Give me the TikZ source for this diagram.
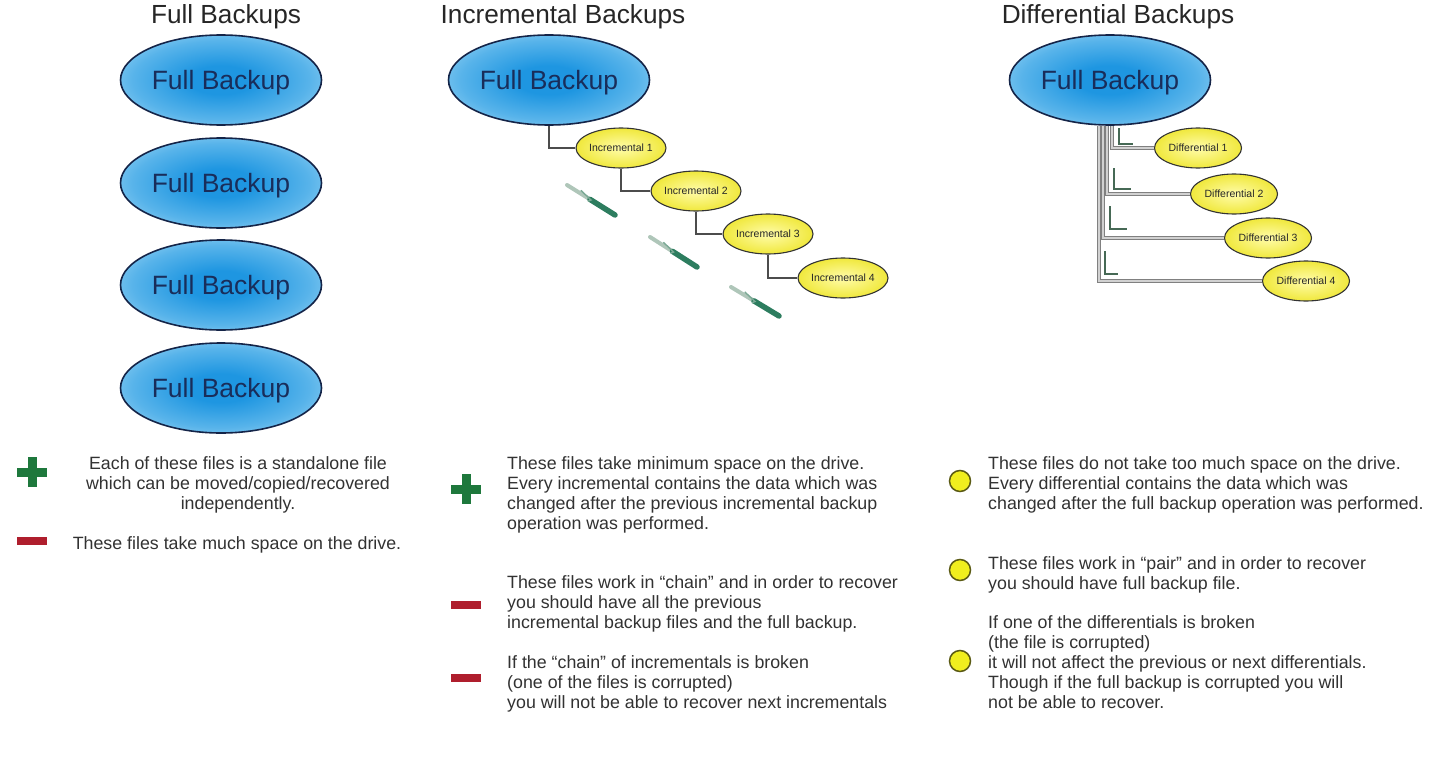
\documentclass[tikz,border=0pt]{standalone}
\usepackage{fontspec}
\setmainfont{Liberation Sans}
\usetikzlibrary{shapes.geometric,calc}
\definecolor{navy}{RGB}{25,45,90}
\definecolor{bluein}{RGB}{30,150,225}
\definecolor{blueout}{RGB}{175,224,248}
\definecolor{yelin}{RGB}{255,252,170}
\definecolor{yelout}{RGB}{240,232,60}
\definecolor{txt}{RGB}{50,50,50}
\definecolor{plusgreen}{RGB}{30,120,60}
\definecolor{minusred}{RGB}{175,30,45}
\definecolor{arrlight}{RGB}{175,198,185}
\definecolor{arrdark}{RGB}{45,125,95}
\definecolor{markgreen}{RGB}{70,105,85}
\definecolor{dotyellow}{RGB}{240,238,30}
\definecolor{dotline}{RGB}{90,90,20}
\pgfdeclareradialshading{fbshade}{\pgfpoint{0bp}{0bp}}{color(0bp)=(bluein); color(8bp)=(bluein); color(22bp)=(bluein!60!blueout); color(36bp)=(blueout); color(50bp)=(blueout)}
\pgfdeclareradialshading{ybshade}{\pgfpoint{0bp}{0bp}}{color(0bp)=(yelin); color(25bp)=(yelout); color(50bp)=(yelout)}
\tikzset{
  fullbk/.style={ellipse, draw=navy!80!black, line width=1.6pt, shading=fbshade,
    minimum width=201pt, minimum height=90pt, inner sep=0pt, text=navy, text depth=0pt,
    font=\fontsize{26.5}{30}\selectfont},
  smallbk/.style={ellipse, draw=black!80, line width=1.1pt, shading=ybshade,
    minimum width=87pt, minimum height=40pt, inner sep=0pt, text=black!85, text depth=0pt,
    font=\fontsize{10.5}{12}\selectfont},
  title/.style={font=\fontsize{26.2}{30}\selectfont, text=black!85, inner sep=0pt, text depth=0pt},
  body/.style={font=\fontsize{17.8}{20}\selectfont, text=txt, inner sep=0pt, align=left, anchor=north west},
  bodyc/.style={font=\fontsize{17.8}{20}\selectfont, text=txt, inner sep=0pt, align=center, anchor=north},
  chainline/.style={draw=black!70, line width=1.3pt},
  diffline/.style={draw=black!50, line width=1.1pt, double=black!18, double distance=1.1pt},
  elbowmark/.style={draw=markgreen, line width=1.5pt},
  plusmark/.style={minimum size=30pt, inner sep=0pt, path picture={
     \fill[plusgreen] ($(path picture bounding box.center)+(-15pt,-4.5pt)$) rectangle ++(30pt,9pt);
     \fill[plusgreen] ($(path picture bounding box.center)+(-4.5pt,-15pt)$) rectangle ++(9pt,30pt);}},
  minusmark/.style={fill=minusred, minimum width=30pt, minimum height=8pt, inner sep=0pt},
  dotmark/.style={circle, fill=dotyellow, draw=dotline, line width=1.5pt, minimum size=21pt, inner sep=0pt},
}
\begin{document}
\begin{tikzpicture}[x=1pt,y=-1pt]
\useasboundingbox[fill=white] (0,0) rectangle (1440,776);

% Titles
\node[title] (t1) at (226,14) {Full Backups};
\node[title] (t2) at (563,14) {Incremental Backups};
\node[title] (t3) at (1118,14) {Differential Backups};

% Full backups column
\node[fullbk] (f1) at (221,80) {Full Backup};
\node[fullbk] (f2) at (221,183) {Full Backup};
\node[fullbk] (f3) at (221,285) {Full Backup};
\node[fullbk] (f4) at (221,388) {Full Backup};

% Incremental column
\node[fullbk] (fi) at (549,80) {Full Backup};
\node[smallbk] (i1) at (621,148) {Incremental 1};
\node[smallbk] (i2) at (696,191) {Incremental 2};
\node[smallbk] (i3) at (768,234) {Incremental 3};
\node[smallbk] (i4) at (843,278) {Incremental 4};
\draw[chainline] (fi.south) |- (i1.west);
\draw[chainline] (i1.south) |- (i2.west);
\draw[chainline] (i2.south) |- (i3.west);
\draw[chainline] (i3.south) |- (i4.west);

% green arrows
\foreach \n/\ax/\ay/\bx/\by in {1/567/185/615/215, 2/650/237/697/267, 3/731/287/779/316}{
  \coordinate (a\n s) at (\ax,\ay);
  \coordinate (a\n e) at (\bx,\by);
  \draw[arrlight, line width=4pt, line cap=round] (a\n s) -- ($(a\n s)!0.52!(a\n e)$);
  \draw[arrdark, line width=5.5pt, line cap=round] ($(a\n s)!0.48!(a\n e)$) -- (a\n e);
  \draw[arrlight!60!arrdark, line width=1.4pt] ($(a\n s)!0.36!(a\n e)+(-3.5pt,5.5pt)$) -- ($(a\n s)!0.5!(a\n e)$) -- ($(a\n s)!0.36!(a\n e)+(3.5pt,-5.5pt)$);
}

% Differential column
\node[fullbk] (fd) at (1110,80) {Full Backup};
\node[smallbk] (d1) at (1198,148) {Differential 1};
\node[smallbk] (d2) at (1234,194) {Differential 2};
\node[smallbk] (d3) at (1268,238) {Differential 3};
\node[smallbk] (d4) at (1306,281) {Differential 4};
\draw[diffline] ([xshift=2pt]fd.south) |- (d1.west);
\draw[diffline] ([xshift=-3pt]fd.south) |- (d2.west);
\draw[diffline] ([xshift=-7pt]fd.south) |- (d3.west);
\draw[diffline] ([xshift=-11pt]fd.south) |- (d4.west);
\draw[elbowmark] (1119,128) -- (1119,144) -- (1133,144);
\draw[elbowmark] (1114,168) -- (1114,189) -- (1131,189);
\draw[elbowmark] (1110,206) -- (1110,229) -- (1127,229);
\draw[elbowmark] (1105,251) -- (1105,274) -- (1118,274);

% Full backups notes
\node[plusmark] (p1) at (32,472) {};
\node[bodyc] (n1) at (238,456) {Each of these files is a standalone file\\which can be moved/copied/recovered\\independently.};
\node[minusmark] (m1) at (32,541) {};
\node[bodyc] (n2) at (237,536) {These files take much space on the drive.};

% Incremental notes
\node[plusmark] (p2) at (466,489) {};
\node[body] (n3) at (507,456) {These files take minimum space on the drive.\\Every incremental contains the data which was\\changed after the previous incremental backup\\operation was performed.};
\node[minusmark] (m2) at (466,605) {};
\node[body] (n4) at (507,575) {These files work in “chain” and in order to recover\\you should have all the previous\\incremental backup files and the full backup.};
\node[minusmark] (m3) at (466,678) {};
\node[body] (n5) at (507,655) {If the “chain” of incrementals is broken\\(one of the files is corrupted)\\you will not be able to recover next incrementals};

% Differential notes
\node[dotmark] (c1) at (960,481) {};
\node[body] (n6) at (988,456) {These files do not take too much space on the drive.\\Every differential contains the data which was\\changed after the full backup operation was performed.};
\node[dotmark] (c2) at (960,570) {};
\node[body] (n7) at (988,556) {These files work in “pair” and in order to recover\\you should have full backup file.};
\node[dotmark] (c3) at (960,661) {};
\node[body] (n8) at (988,615) {If one of the differentials is broken\\(the file is corrupted)\\it will not affect the previous or next differentials.\\Though if the full backup is corrupted you will\\not be able to recover.};
\end{tikzpicture}
\end{document}
